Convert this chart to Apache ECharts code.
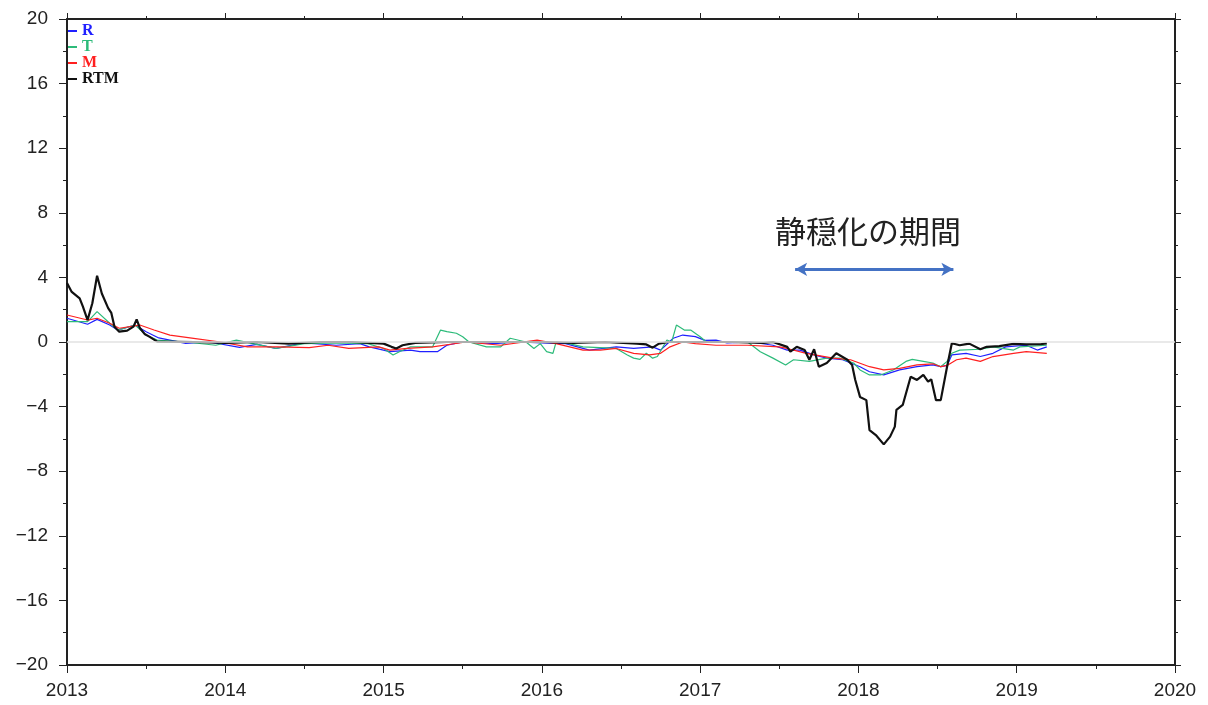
<!DOCTYPE html>
<html>
<head>
<meta charset="utf-8">
<script src="https://cdn.jsdelivr.net/npm/echarts@6/dist/echarts.min.js"></script>
<style>
  html, body { margin: 0; padding: 0; background: #fff; }
  #chart { width: 1208px; height: 705px; }
</style>
</head>
<body>
<div id="chart"></div>
<script>
// x ticks / y ticks
var xTicks = [2013, 2014, 2015, 2016, 2017, 2018, 2019, 2020];
var yTicks = [-20, -16, -12, -8, -4, 0, 4, 8, 12, 16, 20];

// RTM (black)
var rtmYears = [2013.0, 2013.03, 2013.08, 2013.10, 2013.13, 2013.16, 2013.19, 2013.22, 2013.26, 2013.28,
  2013.30, 2013.33, 2013.38, 2013.42, 2013.44, 2013.46, 2013.49, 2013.52, 2013.57, 2013.8,
  2014.0, 2014.2, 2014.4, 2014.6, 2014.8, 2015.0, 2015.05, 2015.08, 2015.12, 2015.2,
  2015.4, 2015.6, 2015.8, 2016.0, 2016.2, 2016.4, 2016.6, 2016.66, 2016.70, 2016.74,
  2016.8, 2017.0, 2017.2, 2017.4, 2017.46, 2017.55, 2017.57, 2017.61, 2017.66, 2017.69,
  2017.72, 2017.75, 2017.80, 2017.86, 2017.93, 2017.96, 2017.98, 2018.01, 2018.05, 2018.07,
  2018.11, 2018.16, 2018.20, 2018.23, 2018.24, 2018.28, 2018.33, 2018.37, 2018.41, 2018.44,
  2018.46, 2018.49, 2018.52, 2018.56, 2018.59, 2018.64, 2018.70, 2018.77, 2018.81, 2018.89,
  2018.98, 2019.06, 2019.15, 2019.19];
var rtmValues = [3.65, 3.1, 2.7, 2.2, 1.36, 2.4, 4.1, 3.0, 2.1, 1.8,
  0.95, 0.64, 0.7, 0.95, 1.4, 0.87, 0.5, 0.33, 0.02, 0.0,
  -0.05, 0.0, -0.1, 0.0, 0.0, -0.1, -0.3, -0.4, -0.2, -0.05,
  0.0, 0.0, 0.0, 0.0, -0.05, 0.0, -0.1, -0.15, -0.35, -0.1,
  0.0, 0.0, 0.0, -0.05, 0.0, -0.3, -0.6, -0.3, -0.5, -1.1,
  -0.45, -1.53, -1.3, -0.7, -1.1, -1.42, -2.35, -3.4, -3.6, -5.45,
  -5.76, -6.34, -5.86, -5.24, -4.2, -3.9, -2.15, -2.35, -2.04, -2.46,
  -2.31, -3.6, -3.6, -1.53, -0.08, -0.2, -0.1, -0.45, -0.3, -0.25,
  -0.12, -0.15, -0.14, -0.08];

// R (blue)
var rYears = [2013.0, 2013.13, 2013.19, 2013.27, 2013.32, 2013.43, 2013.5, 2013.58, 2013.75, 2013.9,
  2014.09, 2014.2, 2014.32, 2014.5, 2014.7, 2014.85, 2014.91, 2015.04, 2015.17, 2015.23,
  2015.34, 2015.4, 2015.5, 2015.7, 2015.85, 2016.0, 2016.15, 2016.3, 2016.47, 2016.58,
  2016.7, 2016.75, 2016.83, 2016.89, 2016.97, 2017.03, 2017.1, 2017.17, 2017.32, 2017.46,
  2017.55, 2017.63, 2017.72, 2017.8, 2017.9, 2018.01, 2018.07, 2018.16, 2018.26, 2018.37,
  2018.47, 2018.52, 2018.56, 2018.59, 2018.68, 2018.77, 2018.85, 2018.93, 2019.06, 2019.13,
  2019.19];
var rValues = [1.47, 1.1, 1.4, 1.05, 0.74, 1.05, 0.64, 0.25, -0.08, 0.0,
  -0.33, -0.15, -0.39, -0.05, -0.2, -0.1, -0.3, -0.6, -0.5, -0.6,
  -0.6, -0.2, 0.0, -0.1, 0.0, -0.05, -0.1, -0.5, -0.3, -0.4,
  -0.3, -0.5, 0.23, 0.43, 0.33, 0.1, 0.12, -0.05, 0.0, -0.2,
  -0.5, -0.5, -0.8, -1.0, -1.1, -1.53, -1.84, -2.04, -1.73, -1.53,
  -1.42, -1.53, -1.45, -0.8, -0.7, -0.9, -0.7, -0.3, -0.2, -0.5,
  -0.3];

// T (green)
var tYears = [2013.0, 2013.13, 2013.19, 2013.27, 2013.32, 2013.43, 2013.5, 2013.57, 2013.75, 2013.94,
  2014.07, 2014.32, 2014.5, 2014.7, 2014.9, 2015.0, 2015.06, 2015.1, 2015.17, 2015.31,
  2015.36, 2015.4, 2015.46, 2015.5, 2015.54, 2015.65, 2015.74, 2015.8, 2015.9, 2015.95,
  2015.99, 2016.03, 2016.07, 2016.09, 2016.15, 2016.26, 2016.47, 2016.54, 2016.58, 2016.62,
  2016.66, 2016.7, 2016.73, 2016.79, 2016.82, 2016.85, 2016.9, 2016.94, 2017.0, 2017.04,
  2017.3, 2017.38, 2017.46, 2017.54, 2017.59, 2017.69, 2017.80, 2017.88, 2017.97, 2018.01,
  2018.07, 2018.14, 2018.22, 2018.30, 2018.34, 2018.41, 2018.47, 2018.52, 2018.56, 2018.59,
  2018.64, 2018.77, 2018.85, 2018.98, 2019.02, 2019.19];
var tValues = [1.26, 1.26, 1.88, 1.16, 0.74, 1.05, 0.43, 0.12, 0.0, -0.2,
  0.12, -0.39, -0.1, -0.05, -0.1, -0.4, -0.8, -0.6, -0.3, -0.3,
  0.74, 0.64, 0.54, 0.33, 0.0, -0.3, -0.3, 0.23, 0.0, -0.4,
  -0.1, -0.6, -0.7, 0.0, -0.05, -0.3, -0.4, -0.8, -1.0, -1.08,
  -0.7, -1.0, -0.9, 0.12, 0.0, 1.05, 0.74, 0.74, 0.33, 0.0,
  0.0, -0.6, -1.0, -1.42, -1.1, -1.2, -1.0, -1.0, -1.3, -1.73,
  -2.04, -2.04, -1.73, -1.2, -1.08, -1.2, -1.3, -1.53, -1.2, -0.7,
  -0.5, -0.45, -0.3, -0.5, -0.3, -0.2];

// M (red)
var mYears = [2013.0, 2013.13, 2013.19, 2013.27, 2013.33, 2013.46, 2013.55, 2013.65, 2013.8, 2013.97,
  2014.14, 2014.33, 2014.53, 2014.65, 2014.78, 2014.97, 2015.04, 2015.15, 2015.31, 2015.52,
  2015.74, 2015.97, 2016.09, 2016.26, 2016.37, 2016.47, 2016.58, 2016.68, 2016.75, 2016.81,
  2016.89, 2016.97, 2017.1, 2017.3, 2017.5, 2017.55, 2017.67, 2017.84, 2017.95, 2018.07,
  2018.16, 2018.26, 2018.37, 2018.47, 2018.52, 2018.56, 2018.62, 2018.68, 2018.77, 2018.85,
  2018.98, 2019.06, 2019.19];
var mValues = [1.67, 1.36, 1.47, 1.16, 0.85, 1.05, 0.74, 0.43, 0.23, 0.0,
  -0.3, -0.3, -0.35, -0.2, -0.4, -0.3, -0.5, -0.4, -0.3, 0.0,
  -0.2, 0.12, -0.1, -0.5, -0.5, -0.4, -0.7, -0.8, -0.7, -0.3,
  0.0, -0.1, -0.2, -0.2, -0.3, -0.4, -0.7, -1.0, -1.1, -1.53,
  -1.73, -1.63, -1.42, -1.35, -1.53, -1.45, -1.1, -1.0, -1.2, -0.9,
  -0.7, -0.6, -0.7];

// 静穏化の期間 arrow span
var calmStart = 2017.6, calmEnd = 2018.6, calmLevel = 4.5;

function pairs(xs, ys) {
  return xs.map(function (x, i) { return [x, ys[i]]; });
}

var chart = echarts.init(document.getElementById('chart'));
var axisColor = '#222';
var labelFont = { color: '#222', fontSize: 19, fontFamily: 'Liberation Sans, Arial, sans-serif' };

var option = {
  animation: false,
  backgroundColor: '#fff',
  grid: { left: 67, right: 33, top: 19, bottom: 40, containLabel: false },
  legend: {
    left: 68, top: 23, padding: 0,
    orient: 'vertical',
    itemWidth: 9, itemHeight: 2, itemGap: 0,
    icon: 'rect',
    textStyle: { fontFamily: 'Liberation Serif, Times New Roman, serif', fontWeight: 'bold', fontSize: 16, lineHeight: 14 },
    data: [
      { name: 'R', textStyle: { color: '#2020ff' } },
      { name: 'T', textStyle: { color: '#2dbb7a' } },
      { name: 'M', textStyle: { color: '#ff2020' } },
      { name: 'RTM', textStyle: { color: '#111' } }
    ]
  },
  xAxis: [{
    type: 'value', min: xTicks[0], max: xTicks[xTicks.length - 1], interval: 1,
    axisLine: { show: true, onZero: false, lineStyle: { color: axisColor, width: 2 } },
    axisTick: { show: true, inside: false, length: 8, lineStyle: { color: axisColor } },
    minorTick: { show: true, splitNumber: 2, length: 4, lineStyle: { color: axisColor } },
    axisLabel: { show: true, margin: 16, formatter: function (v) { return String(Math.round(v)); }, ...labelFont },
    splitLine: { show: false }
  }, {
    type: 'value', position: 'top', min: xTicks[0], max: xTicks[xTicks.length - 1], interval: 1,
    axisLine: { show: true, onZero: false, lineStyle: { color: axisColor, width: 2 } },
    axisTick: { show: true, inside: false, length: 6, lineStyle: { color: axisColor } },
    minorTick: { show: true, splitNumber: 2, length: 3, lineStyle: { color: axisColor } },
    axisLabel: { show: false },
    splitLine: { show: false }
  }],
  yAxis: [{
    type: 'value', min: yTicks[0], max: yTicks[yTicks.length - 1], interval: 4,
    axisLine: { show: true, onZero: false, lineStyle: { color: axisColor, width: 2 } },
    axisTick: { show: true, inside: false, length: 8, lineStyle: { color: axisColor } },
    minorTick: { show: true, splitNumber: 2, length: 4, lineStyle: { color: axisColor } },
    axisLabel: { show: true, margin: 19, formatter: function (v) { return String(v).replace('-', '\u2212'); }, ...labelFont },
    splitLine: { show: false }
  }, {
    type: 'value', position: 'right', min: yTicks[0], max: yTicks[yTicks.length - 1], interval: 4,
    axisLine: { show: true, onZero: false, lineStyle: { color: axisColor, width: 2 } },
    axisTick: { show: true, inside: false, length: 6, lineStyle: { color: axisColor } },
    minorTick: { show: true, splitNumber: 2, length: 3, lineStyle: { color: axisColor } },
    axisLabel: { show: false },
    splitLine: { show: false }
  }],
  series: [
    {
      name: 'R', type: 'line', data: pairs(rYears, rValues), showSymbol: false,
      lineStyle: { color: '#2020ff', width: 1.2 }, itemStyle: { color: '#2020ff' },
      markLine: {
        silent: true, symbol: ['none', 'none'], label: { show: false },
        lineStyle: { color: '#e2e2e2', width: 1.5, type: 'solid' },
        data: [{ yAxis: 0 }]
      }
    },
    {
      name: 'T', type: 'line', data: pairs(tYears, tValues), showSymbol: false,
      lineStyle: { color: '#2dbb7a', width: 1.2 }, itemStyle: { color: '#2dbb7a' }
    },
    {
      name: 'M', type: 'line', data: pairs(mYears, mValues), showSymbol: false,
      lineStyle: { color: '#ff2020', width: 1.2 }, itemStyle: { color: '#ff2020' }
    },
    {
      name: 'RTM', type: 'line', data: pairs(rtmYears, rtmValues), showSymbol: false,
      lineStyle: { color: '#111', width: 2.2 }, itemStyle: { color: '#111' },
      markLine: {
        silent: true, symbol: ['arrow', 'arrow'], symbolSize: [10, 12],
        label: { show: false },
        lineStyle: { color: '#4472c4', width: 3, type: 'solid' },
        data: [[{ coord: [calmStart, calmLevel] }, { coord: [calmEnd, calmLevel] }]]
      }
    }
  ],
  graphic: [{
    type: 'text', left: 775, top: 216,
    style: { text: '静穏化の期間', fill: '#222', fontSize: 31, fontFamily: 'Noto Sans CJK JP' }
  }]
};

chart.setOption(option);
</script>
</body>
</html>
